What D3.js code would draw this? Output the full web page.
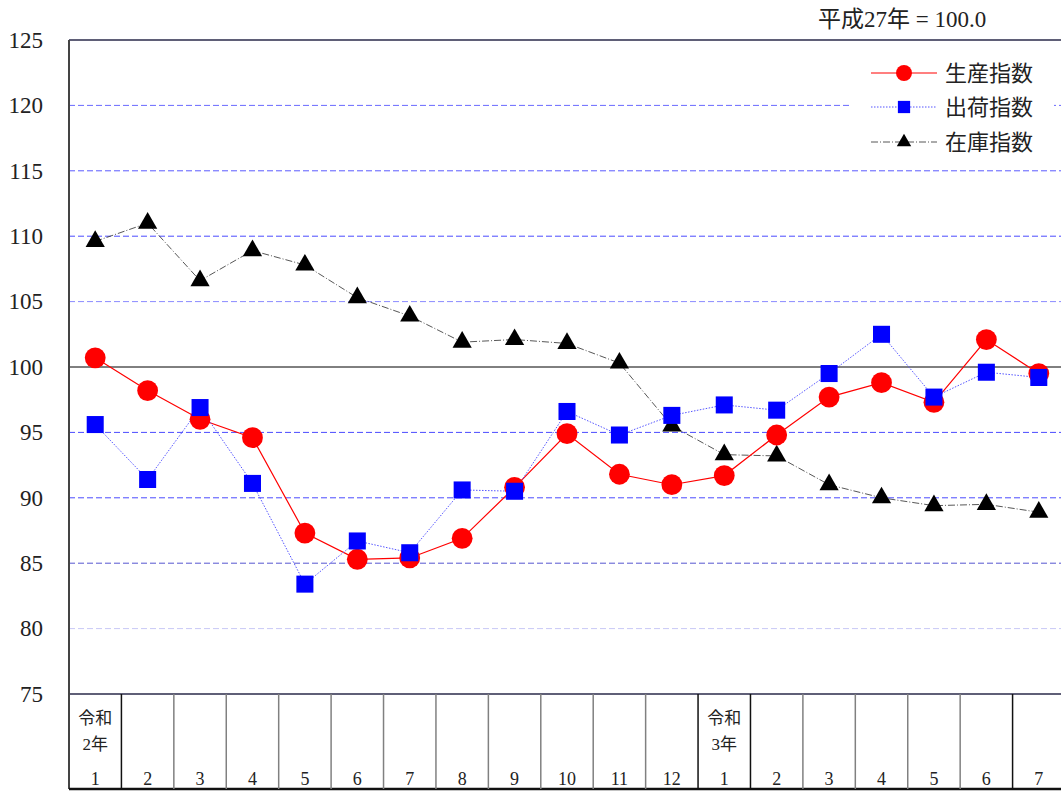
<!DOCTYPE html>
<html>
<head>
<meta charset="utf-8">
<script src="https://cdn.jsdelivr.net/npm/d3@7"></script>
<style>
  body { margin: 0; background: #fff; }
  svg { display: block; }
  text { font-family: "Liberation Serif", "Noto Sans CJK JP", serif; fill: #222; }
</style>
</head>
<body>
<svg id="chart" width="1061" height="791"></svg>
<script>
var months = ["1","2","3","4","5","6","7","8","9","10","11","12","1","2","3","4","5","6","7"];
var eraLabels = {0: ["令和", "2年"], 12: ["令和", "3年"]};
var production = [100.7, 98.2, 96.0, 94.6, 87.3, 85.3, 85.4, 86.9, 90.8, 94.9, 91.8, 91.0, 91.7, 94.8, 97.7, 98.8, 97.3, 102.1, 99.5];
var shipments  = [95.6, 91.4, 96.9, 91.1, 83.4, 86.7, 85.8, 90.6, 90.5, 96.6, 94.8, 96.3, 97.1, 96.7, 99.5, 102.5, 97.7, 99.6, 99.2];
var inventory  = [109.6, 111.0, 106.6, 108.9, 107.8, 105.3, 103.9, 101.9, 102.1, 101.8, 100.3, 95.5, 93.3, 93.2, 91.0, 90.0, 89.4, 89.5, 88.9];
var yTicks = [75, 80, 85, 90, 95, 100, 105, 110, 115, 120, 125];
var seriesNames = ["生産指数", "出荷指数", "在庫指数"];

var svg = d3.select("#chart"),
    plotLeft = 69, plotRight = 1065, plotTop = 40, plotBottom = 694, tableBottom = 789;

var x = d3.scaleBand()
    .domain(d3.range(months.length))
    .range([plotLeft, plotRight]);

var y = d3.scaleLinear()
    .domain([75, 125])
    .range([plotBottom, plotTop]);

// grid lines
var gridStyle = {
  80: {stroke: "#c8c8f6", dash: "6,3"},
  85: {stroke: "#5656d0", dash: "6,3"},
  90: {stroke: "#4a4aff", dash: "6,3"},
  95: {stroke: "#4a4aff", dash: "6,3"},
  100: {stroke: "#000", dash: null},
  105: {stroke: "#8a8aff", dash: "6,3"},
  110: {stroke: "#4a4aff", dash: "6,3"},
  115: {stroke: "#5a5aff", dash: "6,3"},
  120: {stroke: "#6a6aff", dash: "6,3"}
};

svg.append("g")
  .selectAll("line")
  .data(yTicks.filter(function(d) { return gridStyle[d]; }))
  .join("line")
    .attr("x1", plotLeft)
    .attr("x2", plotRight)
    .attr("y1", function(d) { return y(d); })
    .attr("y2", function(d) { return y(d); })
    .attr("stroke", function(d) { return gridStyle[d].stroke; })
    .attr("stroke-width", 1)
    .attr("stroke-dasharray", function(d) { return gridStyle[d].dash; });

// frame
svg.append("line")
    .attr("x1", plotLeft).attr("x2", plotRight)
    .attr("y1", plotTop).attr("y2", plotTop)
    .attr("stroke", "#2a2a4a").attr("stroke-width", 1.5);
svg.append("line")
    .attr("x1", plotLeft).attr("x2", plotRight)
    .attr("y1", plotBottom).attr("y2", plotBottom)
    .attr("stroke", "#2a2a4a").attr("stroke-width", 1.5);
svg.append("line")
    .attr("x1", plotLeft).attr("x2", plotLeft)
    .attr("y1", plotTop).attr("y2", tableBottom)
    .attr("stroke", "#444").attr("stroke-width", 2);
svg.append("line")
    .attr("x1", plotLeft).attr("x2", plotRight)
    .attr("y1", tableBottom).attr("y2", tableBottom)
    .attr("stroke", "#111").attr("stroke-width", 2.5);

// y axis labels
var yAxis = svg.append("g")
    .attr("transform", "translate(" + plotLeft + ",0)")
    .call(d3.axisLeft(y).tickValues(yTicks).tickSize(0).tickPadding(26));
yAxis.select(".domain").remove();
yAxis.selectAll("text")
    .attr("font-size", 23)
    .attr("font-family", "Liberation Serif, serif")
    .attr("fill", "#222");

// category table
svg.append("g")
  .selectAll("line")
  .data(d3.range(1, months.length))
  .join("line")
    .attr("x1", function(i) { return x(i); })
    .attr("x2", function(i) { return x(i); })
    .attr("y1", plotBottom)
    .attr("y2", tableBottom)
    .attr("stroke", function(i) { return (i === 1 || i === 12 || i === 13 || i === 18) ? "#111" : "#808080"; })
    .attr("stroke-width", 1.5);

svg.append("g")
  .selectAll("text")
  .data(months)
  .join("text")
    .attr("x", function(d, i) { return x(i) + x.bandwidth() / 2; })
    .attr("y", 785)
    .attr("text-anchor", "middle")
    .attr("font-size", 18)
    .text(function(d) { return d; });

Object.keys(eraLabels).forEach(function(k) {
  var mx = x(+k) + x.bandwidth() / 2;
  eraLabels[k].forEach(function(t, j) {
    svg.append("text")
        .attr("x", mx)
        .attr("y", 724 + j * 26)
        .attr("text-anchor", "middle")
        .attr("font-size", 17)
        .text(t);
  });
});

// series
var cx = function(d, i) { return x(i) + x.bandwidth() / 2; };
var lineGen = d3.line()
    .x(cx)
    .y(function(d) { return y(d); });

var series = [
  {name: seriesNames[0], data: production, stroke: "#ff0000", dash: null, width: 1.2, symbol: d3.symbolCircle, size: 340, fill: "#ff0000"},
  {name: seriesNames[1], data: shipments, stroke: "#5555ff", dash: "1.5,1.5", width: 1, symbol: d3.symbolSquare, size: 290, fill: "#0000ff"},
  {name: seriesNames[2], data: inventory, stroke: "#444", dash: "7,2,1,2", width: 0.9, symbol: d3.symbolTriangle, size: 160, fill: "#000"}
];

// legend background hides grid
svg.append("rect")
    .attr("x", 849).attr("y", 50)
    .attr("width", 205).attr("height", 112)
    .attr("fill", "#fff");

var order = [2, 0, 1];
order.forEach(function(k) {
  var s = series[k];
  svg.append("path")
      .datum(s.data)
      .attr("fill", "none")
      .attr("stroke", s.stroke)
      .attr("stroke-width", s.width)
      .attr("stroke-dasharray", s.dash)
      .attr("d", lineGen);
});
order.forEach(function(k) {
  var s = series[k];
  svg.append("g")
    .selectAll("path")
    .data(s.data)
    .join("path")
      .attr("transform", function(d, i) { return "translate(" + cx(d, i) + "," + y(d) + ")"; })
      .attr("d", d3.symbol().type(s.symbol).size(s.size))
      .attr("fill", s.fill);
});

// legend
var legend = svg.append("g");
series.forEach(function(s, i) {
  var ly = [73, 107, 142][i];
  legend.append("line")
      .attr("x1", 871).attr("x2", 937)
      .attr("y1", ly).attr("y2", ly)
      .attr("stroke", s.stroke)
      .attr("stroke-width", s.width)
      .attr("stroke-dasharray", s.dash);
  legend.append("path")
      .attr("transform", "translate(904," + ly + ")")
      .attr("d", d3.symbol().type(s.symbol).size(i === 0 ? 200 : (i === 1 ? 150 : 90)))
      .attr("fill", s.fill);
  legend.append("text")
      .attr("x", 945)
      .attr("y", ly + 8)
      .attr("font-size", 22)
      .text(s.name);
});

svg.append("text")
    .attr("x", 818)
    .attr("y", 27)
    .attr("font-size", 23)
    .text("平成27年 = 100.0");
</script>
</body>
</html>
